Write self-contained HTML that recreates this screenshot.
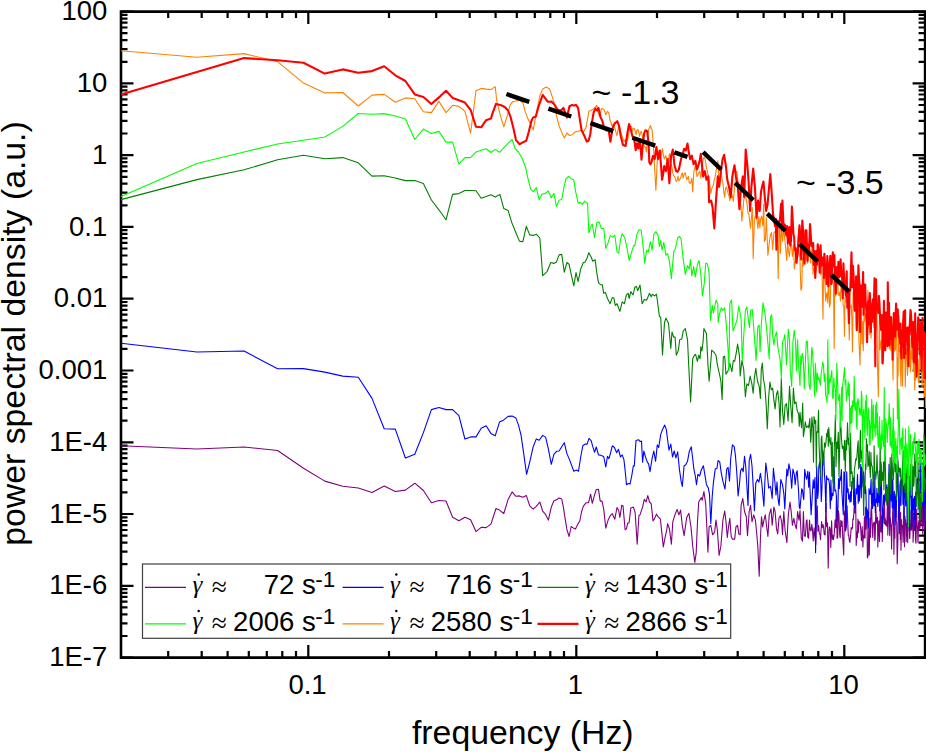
<!DOCTYPE html>
<html><head><meta charset="utf-8"><title>PSD</title>
<style>html,body{margin:0;padding:0;background:#fff}body{width:926px;height:752px;overflow:hidden;font-family:"Liberation Sans",sans-serif}</style>
</head><body>
<svg width="926" height="752" viewBox="0 0 926 752" style="display:block">
<rect width="926" height="752" fill="#fff"/>
<g stroke="#000" stroke-width="2.6" fill="none" stroke-linecap="butt">
<path d="M121.0 11.6 H925.1 V657.6 H121.0 Z"/>
</g>
<path d="M121.0 11.6 h12.5 M925.1 11.6 h-12.5 M121.0 61.8 h6.5 M925.1 61.8 h-6.5 M121.0 49.1 h6.5 M925.1 49.1 h-6.5 M121.0 40.2 h6.5 M925.1 40.2 h-6.5 M121.0 33.2 h6.5 M925.1 33.2 h-6.5 M121.0 27.5 h6.5 M925.1 27.5 h-6.5 M121.0 22.7 h6.5 M925.1 22.7 h-6.5 M121.0 18.6 h6.5 M925.1 18.6 h-6.5 M121.0 14.9 h6.5 M925.1 14.9 h-6.5 M121.0 83.4 h12.5 M925.1 83.4 h-12.5 M121.0 133.5 h6.5 M925.1 133.5 h-6.5 M121.0 120.9 h6.5 M925.1 120.9 h-6.5 M121.0 111.9 h6.5 M925.1 111.9 h-6.5 M121.0 105.0 h6.5 M925.1 105.0 h-6.5 M121.0 99.3 h6.5 M925.1 99.3 h-6.5 M121.0 94.5 h6.5 M925.1 94.5 h-6.5 M121.0 90.3 h6.5 M925.1 90.3 h-6.5 M121.0 86.7 h6.5 M925.1 86.7 h-6.5 M121.0 155.2 h12.5 M925.1 155.2 h-12.5 M121.0 205.3 h6.5 M925.1 205.3 h-6.5 M121.0 192.7 h6.5 M925.1 192.7 h-6.5 M121.0 183.7 h6.5 M925.1 183.7 h-6.5 M121.0 176.8 h6.5 M925.1 176.8 h-6.5 M121.0 171.1 h6.5 M925.1 171.1 h-6.5 M121.0 166.3 h6.5 M925.1 166.3 h-6.5 M121.0 162.1 h6.5 M925.1 162.1 h-6.5 M121.0 158.4 h6.5 M925.1 158.4 h-6.5 M121.0 226.9 h12.5 M925.1 226.9 h-12.5 M121.0 277.1 h6.5 M925.1 277.1 h-6.5 M121.0 264.5 h6.5 M925.1 264.5 h-6.5 M121.0 255.5 h6.5 M925.1 255.5 h-6.5 M121.0 248.5 h6.5 M925.1 248.5 h-6.5 M121.0 242.9 h6.5 M925.1 242.9 h-6.5 M121.0 238.1 h6.5 M925.1 238.1 h-6.5 M121.0 233.9 h6.5 M925.1 233.9 h-6.5 M121.0 230.2 h6.5 M925.1 230.2 h-6.5 M121.0 298.7 h12.5 M925.1 298.7 h-12.5 M121.0 348.9 h6.5 M925.1 348.9 h-6.5 M121.0 336.2 h6.5 M925.1 336.2 h-6.5 M121.0 327.3 h6.5 M925.1 327.3 h-6.5 M121.0 320.3 h6.5 M925.1 320.3 h-6.5 M121.0 314.6 h6.5 M925.1 314.6 h-6.5 M121.0 309.8 h6.5 M925.1 309.8 h-6.5 M121.0 305.7 h6.5 M925.1 305.7 h-6.5 M121.0 302.0 h6.5 M925.1 302.0 h-6.5 M121.0 370.5 h12.5 M925.1 370.5 h-12.5 M121.0 420.7 h6.5 M925.1 420.7 h-6.5 M121.0 408.0 h6.5 M925.1 408.0 h-6.5 M121.0 399.1 h6.5 M925.1 399.1 h-6.5 M121.0 392.1 h6.5 M925.1 392.1 h-6.5 M121.0 386.4 h6.5 M925.1 386.4 h-6.5 M121.0 381.6 h6.5 M925.1 381.6 h-6.5 M121.0 377.4 h6.5 M925.1 377.4 h-6.5 M121.0 373.8 h6.5 M925.1 373.8 h-6.5 M121.0 442.3 h12.5 M925.1 442.3 h-12.5 M121.0 492.4 h6.5 M925.1 492.4 h-6.5 M121.0 479.8 h6.5 M925.1 479.8 h-6.5 M121.0 470.8 h6.5 M925.1 470.8 h-6.5 M121.0 463.9 h6.5 M925.1 463.9 h-6.5 M121.0 458.2 h6.5 M925.1 458.2 h-6.5 M121.0 453.4 h6.5 M925.1 453.4 h-6.5 M121.0 449.2 h6.5 M925.1 449.2 h-6.5 M121.0 445.6 h6.5 M925.1 445.6 h-6.5 M121.0 514.0 h12.5 M925.1 514.0 h-12.5 M121.0 564.2 h6.5 M925.1 564.2 h-6.5 M121.0 551.6 h6.5 M925.1 551.6 h-6.5 M121.0 542.6 h6.5 M925.1 542.6 h-6.5 M121.0 535.7 h6.5 M925.1 535.7 h-6.5 M121.0 530.0 h6.5 M925.1 530.0 h-6.5 M121.0 525.2 h6.5 M925.1 525.2 h-6.5 M121.0 521.0 h6.5 M925.1 521.0 h-6.5 M121.0 517.3 h6.5 M925.1 517.3 h-6.5 M121.0 585.8 h12.5 M925.1 585.8 h-12.5 M121.0 636.0 h6.5 M925.1 636.0 h-6.5 M121.0 623.4 h6.5 M925.1 623.4 h-6.5 M121.0 614.4 h6.5 M925.1 614.4 h-6.5 M121.0 607.4 h6.5 M925.1 607.4 h-6.5 M121.0 601.7 h6.5 M925.1 601.7 h-6.5 M121.0 596.9 h6.5 M925.1 596.9 h-6.5 M121.0 592.8 h6.5 M925.1 592.8 h-6.5 M121.0 589.1 h6.5 M925.1 589.1 h-6.5 M121.0 657.6 h12.5 M925.1 657.6 h-12.5 M308.3 657.6 v-12.5 M308.3 11.6 v12.5 M576.3 657.6 v-12.5 M576.3 11.6 v12.5 M844.3 657.6 v-12.5 M844.3 11.6 v12.5 M168.2 657.6 v-6.5 M168.2 11.6 v6.5 M201.7 657.6 v-6.5 M201.7 11.6 v6.5 M227.6 657.6 v-6.5 M227.6 11.6 v6.5 M248.8 657.6 v-6.5 M248.8 11.6 v6.5 M266.8 657.6 v-6.5 M266.8 11.6 v6.5 M282.3 657.6 v-6.5 M282.3 11.6 v6.5 M296.0 657.6 v-6.5 M296.0 11.6 v6.5 M389.0 657.6 v-6.5 M389.0 11.6 v6.5 M436.2 657.6 v-6.5 M436.2 11.6 v6.5 M469.7 657.6 v-6.5 M469.7 11.6 v6.5 M495.6 657.6 v-6.5 M495.6 11.6 v6.5 M516.8 657.6 v-6.5 M516.8 11.6 v6.5 M534.8 657.6 v-6.5 M534.8 11.6 v6.5 M550.3 657.6 v-6.5 M550.3 11.6 v6.5 M564.0 657.6 v-6.5 M564.0 11.6 v6.5 M657.0 657.6 v-6.5 M657.0 11.6 v6.5 M704.2 657.6 v-6.5 M704.2 11.6 v6.5 M737.7 657.6 v-6.5 M737.7 11.6 v6.5 M763.6 657.6 v-6.5 M763.6 11.6 v6.5 M784.8 657.6 v-6.5 M784.8 11.6 v6.5 M802.8 657.6 v-6.5 M802.8 11.6 v6.5 M818.3 657.6 v-6.5 M818.3 11.6 v6.5 M832.0 657.6 v-6.5 M832.0 11.6 v6.5" stroke="#000" stroke-width="2.2" fill="none"/>
<g font-family="Liberation Sans, sans-serif" font-size="27.5" fill="#000">
<text x="107.3" y="20.2" text-anchor="end">100</text>
<text x="107.3" y="92.0" text-anchor="end">10</text>
<text x="107.3" y="163.8" text-anchor="end">1</text>
<text x="107.3" y="235.5" text-anchor="end">0.1</text>
<text x="107.3" y="307.3" text-anchor="end">0.01</text>
<text x="107.3" y="379.1" text-anchor="end">0.001</text>
<text x="107.3" y="450.9" text-anchor="end">1E-4</text>
<text x="107.3" y="522.6" text-anchor="end">1E-5</text>
<text x="107.3" y="594.4" text-anchor="end">1E-6</text>
<text x="107.3" y="666.2" text-anchor="end">1E-7</text>
<text x="307.5" y="693.6" text-anchor="middle">0.1</text>
<text x="575.5" y="693.6" text-anchor="middle">1</text>
<text x="843.5" y="693.6" text-anchor="middle">10</text>
</g>
<g font-family="Liberation Sans, sans-serif" font-size="33.8" fill="#000">
<text x="522.8" y="743.5" text-anchor="middle">frequency (Hz)</text>
<text transform="translate(25 333.5) rotate(-90)" text-anchor="middle">power spectral density (a.u.)</text>
</g>
<rect x="142.5" y="564" width="588.2" height="74.3" fill="#fff" stroke="#404040" stroke-width="1.2"/>
<path d="M145.0 587.3 h41" stroke="#800080" stroke-width="1.3"/>
<text x="192.4" y="592.8" font-family="Liberation Serif, serif" font-style="italic" font-size="25">γ</text>
<circle cx="198.7" cy="574.4" r="1.25" fill="#000"/>
<text x="211.8" y="595.6" font-family="Liberation Serif, serif" font-size="27.5">≈</text>
<text x="294.3" y="594.1" font-family="Liberation Sans, sans-serif" font-size="27.5" text-anchor="end">72</text>
<text x="301.9" y="594.1" font-family="Liberation Sans, sans-serif" font-size="27.5">s</text>
<text x="315.2" y="587.1" font-family="Liberation Sans, sans-serif" font-size="22.5">-1</text>
<path d="M342.6 587.3 h41" stroke="#0000ff" stroke-width="1.3"/>
<text x="390.0" y="592.8" font-family="Liberation Serif, serif" font-style="italic" font-size="25">γ</text>
<circle cx="396.3" cy="574.4" r="1.25" fill="#000"/>
<text x="409.4" y="595.6" font-family="Liberation Serif, serif" font-size="27.5">≈</text>
<text x="491.9" y="594.1" font-family="Liberation Sans, sans-serif" font-size="27.5" text-anchor="end">716</text>
<text x="499.5" y="594.1" font-family="Liberation Sans, sans-serif" font-size="27.5">s</text>
<text x="512.8" y="587.1" font-family="Liberation Sans, sans-serif" font-size="22.5">-1</text>
<path d="M537.5 587.3 h41" stroke="#008000" stroke-width="1.3"/>
<text x="584.9" y="592.8" font-family="Liberation Serif, serif" font-style="italic" font-size="25">γ</text>
<circle cx="591.2" cy="574.4" r="1.25" fill="#000"/>
<text x="604.3" y="595.6" font-family="Liberation Serif, serif" font-size="27.5">≈</text>
<text x="686.8" y="594.1" font-family="Liberation Sans, sans-serif" font-size="27.5" text-anchor="end">1430</text>
<text x="694.4" y="594.1" font-family="Liberation Sans, sans-serif" font-size="27.5">s</text>
<text x="707.7" y="587.1" font-family="Liberation Sans, sans-serif" font-size="22.5">-1</text>
<path d="M145.0 623.9 h41" stroke="#00ff00" stroke-width="1.3"/>
<text x="192.4" y="629.4" font-family="Liberation Serif, serif" font-style="italic" font-size="25">γ</text>
<circle cx="198.7" cy="611.0" r="1.25" fill="#000"/>
<text x="211.8" y="632.2" font-family="Liberation Serif, serif" font-size="27.5">≈</text>
<text x="294.3" y="630.7" font-family="Liberation Sans, sans-serif" font-size="27.5" text-anchor="end">2006</text>
<text x="301.9" y="630.7" font-family="Liberation Sans, sans-serif" font-size="27.5">s</text>
<text x="315.2" y="623.7" font-family="Liberation Sans, sans-serif" font-size="22.5">-1</text>
<path d="M342.6 623.9 h41" stroke="#ff8000" stroke-width="1.3"/>
<text x="390.0" y="629.4" font-family="Liberation Serif, serif" font-style="italic" font-size="25">γ</text>
<circle cx="396.3" cy="611.0" r="1.25" fill="#000"/>
<text x="409.4" y="632.2" font-family="Liberation Serif, serif" font-size="27.5">≈</text>
<text x="491.9" y="630.7" font-family="Liberation Sans, sans-serif" font-size="27.5" text-anchor="end">2580</text>
<text x="499.5" y="630.7" font-family="Liberation Sans, sans-serif" font-size="27.5">s</text>
<text x="512.8" y="623.7" font-family="Liberation Sans, sans-serif" font-size="22.5">-1</text>
<path d="M537.5 623.9 h41" stroke="#ff0000" stroke-width="2.2"/>
<text x="584.9" y="629.4" font-family="Liberation Serif, serif" font-style="italic" font-size="25">γ</text>
<circle cx="591.2" cy="611.0" r="1.25" fill="#000"/>
<text x="604.3" y="632.2" font-family="Liberation Serif, serif" font-size="27.5">≈</text>
<text x="686.8" y="630.7" font-family="Liberation Sans, sans-serif" font-size="27.5" text-anchor="end">2866</text>
<text x="694.4" y="630.7" font-family="Liberation Sans, sans-serif" font-size="27.5">s</text>
<text x="707.7" y="623.7" font-family="Liberation Sans, sans-serif" font-size="22.5">-1</text>
<path d="M121.0 445.7 L196.9 449.0 L244.1 447.0 L277.6 450.5 L303.5 468.3 L324.8 481.1 L342.7 486.3 L358.3 488.0 L372.0 492.4 L384.2 486.1 L395.3 491.5 L405.4 490.1 L414.8 483.2 L423.4 490.5 L431.4 502.7 L438.9 500.5 L446.0 501.0 L452.6 517.2 L458.9 520.7 L464.9 517.2 L470.6 519.8 L476.0 531.6 L481.2 527.3 L486.1 527.6 L490.9 524.1 L496.0 508.5 L499.5 510.1 L503.8 513.5 L508.1 499.4 L512.1 491.9 L515.9 496.3 L519.4 495.9 L522.8 497.3 L526.3 495.4 L529.7 505.8 L533.2 509.2 L536.3 506.3 L539.8 502.0 L542.7 511.1 L545.3 514.1 L548.4 520.1 L551.3 507.1 L553.9 500.8 L556.5 499.7 L559.1 498.0 L561.7 498.9 L563.4 507.1 L565.2 519.2 L566.9 529.6 L569.1 536.5 L571.2 526.5 L573.3 527.9 L575.5 529.1 L577.6 524.4 L579.8 521.0 L581.6 511.5 L583.3 506.3 L585.9 502.8 L588.5 502.8 L590.6 494.2 L592.3 503.3 L594.5 495.1 L596.3 489.5 L598.5 489.4 L600.2 501.1 L602.0 501.1 L603.7 508.9 L605.8 528.2 L608.4 519.2 L610.4 515.4 L612.3 513.7 L614.8 519.2 L617.0 507.5 L618.7 510.6 L619.9 517.5 L621.7 505.4 L623.0 505.8 L625.1 529.6 L626.5 528.7 L627.7 523.2 L629.1 522.7 L630.8 508.0 L633.4 507.1 L635.1 512.3 L637.2 544.3 L638.9 515.8 L640.0 514.9 L642.6 507.1 L644.3 499.4 L646.0 502.0 L647.8 495.6 L649.5 502.0 L651.2 503.7 L653.0 521.0 L654.7 518.4 L656.4 514.1 L658.1 516.7 L660.4 519.2 L662.5 539.1 L663.3 546.9 L665.1 537.4 L666.8 529.6 L667.6 523.6 L669.4 528.7 L671.4 544.3 L672.8 521.8 L674.6 515.8 L677.1 509.4 L678.9 514.9 L680.6 510.1 L682.3 525.3 L684.1 535.7 L686.7 517.5 L688.9 513.2 L691.0 527.0 L692.7 546.0 L694.8 562.4 L696.2 552.9 L697.5 521.8 L698.7 502.0 L701.3 497.6 L702.2 500.2 L703.9 491.6 L705.7 503.7 L707.0 530.5 L707.9 552.1 L709.1 527.0 L710.8 525.3 L712.6 534.8 L714.6 532.2 L716.0 520.1 L717.4 530.5 L719.1 555.5 L720.9 546.0 L722.9 520.1 L724.7 511.0 L726.0 521.8 L727.3 537.4 L728.5 527.0 L729.8 518.4 L731.2 536.5 L732.4 539.1 L734.7 539.1 L735.9 527.0 L737.6 525.3 L738.8 533.9 L740.2 534.8 L741.1 505.4 L742.8 498.5 L744.5 511.5 L746.3 516.7 L747.5 535.7 L749.2 511.5 L750.6 505.4 L752.0 521.8 L753.7 514.9 L755.4 520.1 L756.6 532.2 L757.8 546.0 L759.2 576.3 L760.4 539.1 L761.5 516.7 L762.7 527.0 L763.9 520.1 L765.3 514.9 L766.5 525.3 L767.9 536.5 L769.2 514.9 L771.0 508.9 L772.2 525.3 L773.9 507.1 L775.1 511.5 L776.5 528.7 L777.7 533.9 L779.1 517.5 L780.3 515.8 L781.7 521.8 L782.5 534.8 L783.8 511.5 L785.1 530.5 L786.9 542.6 L788.3 514.9 L790.0 502.0 L791.2 511.5 L792.4 525.3 L793.8 518.4 L795.2 525.3 L796.4 528.7 L797.6 511.5 L799.0 520.1 L800.0 510.6 L800.7 525.8 L801.3 538.3 L802.4 541.2 L803.4 511.5 L804.3 536.0 L805.4 536.1 L806.4 520.4 L807.0 519.9 L807.8 537.2 L808.6 538.3 L809.5 520.1 L810.2 529.8 L811.1 530.8 L811.8 524.3 L812.4 528.7 L813.2 540.9 L814.1 527.7 L814.8 536.4 L815.8 544.5 L816.7 508.8 L817.3 505.9 L817.9 531.2 L818.6 525.5 L819.3 533.3 L820.0 534.8 L820.5 539.8 L821.2 527.5 L821.6 521.5 L822.2 527.6 L823.0 524.6 L823.5 526.6 L824.3 534.6 L825.1 535.0 L826.0 503.3 L826.6 526.8 L827.5 522.9 L828.2 568.1 L829.0 530.7 L829.5 526.8 L830.2 529.2 L830.8 547.4 L831.6 520.7 L832.3 539.3 L832.9 535.3 L833.5 539.7 L834.3 533.5 L835.1 519.9 L835.9 527.7 L836.4 496.2 L837.1 538.3 L837.7 537.8 L838.4 510.8 L838.9 514.4 L839.7 534.4 L840.2 537.8 L840.8 520.3 L841.6 526.5 L842.1 521.1 L842.9 541.1 L843.7 554.9 L844.4 513.5 L845.0 510.7 L845.4 531.1 L846.3 527.2 L847.1 505.9 L847.8 524.3 L848.3 535.5 L848.7 535.2 L849.4 541.1 L849.9 542.4 L850.6 535.4 L851.2 527.5 L851.7 529.2 L852.4 528.2 L852.9 518.9 L853.3 519.6 L853.9 512.7 L854.6 497.3 L855.0 513.0 L855.7 501.1 L856.2 545.4 L857.0 531.7 L857.4 537.6 L857.9 519.0 L858.3 532.7 L858.9 521.0 L859.6 523.0 L860.1 522.9 L860.8 530.3 L861.4 540.7 L862.2 526.6 L862.9 547.0 L863.3 535.7 L863.9 538.1 L864.4 516.9 L865.0 538.1 L865.4 507.1 L865.8 529.1 L866.4 512.8 L867.0 518.9 L867.4 557.9 L868.0 556.3 L868.8 528.5 L869.3 555.1 L869.9 518.2 L870.4 537.4 L870.9 512.3 L871.5 504.6 L871.9 518.4 L872.4 532.1 L872.8 537.4 L873.2 524.5 L873.8 522.5 L874.3 522.2 L874.8 540.5 L875.2 538.7 L875.8 506.4 L876.4 520.3 L876.8 523.4 L877.5 517.2 L877.8 547.0 L878.4 531.5 L878.9 520.7 L879.5 541.5 L879.9 525.4 L880.5 492.7 L880.9 531.7 L881.5 532.1 L881.9 516.1 L882.3 541.4 L882.8 508.2 L883.2 512.8 L883.6 514.8 L884.2 523.5 L884.5 499.3 L884.9 523.9 L885.2 518.0 L885.7 525.3 L886.3 521.0 L886.8 526.2 L887.4 503.5 L887.8 535.1 L888.4 517.8 L888.8 492.6 L889.1 507.7 L889.7 535.6 L890.1 517.7 L890.7 522.9 L891.1 527.4 L891.6 549.1 L892.0 525.9 L892.5 521.8 L892.9 501.8 L893.4 509.7 L893.9 554.3 L894.4 526.8 L894.9 538.2 L895.4 501.8 L895.9 494.1 L896.3 521.5 L896.7 523.1 L897.2 563.8 L897.8 543.7 L898.3 514.5 L898.9 505.0 L899.4 519.9 L899.7 514.9 L900.3 539.7 L900.6 512.4 L901.0 550.3 L901.6 519.6 L901.9 526.7 L902.5 525.4 L903.1 542.3 L903.7 515.8 L904.1 507.6 L904.5 546.7 L904.9 516.2 L905.3 521.3 L905.8 520.0 L906.2 541.8 L906.7 523.2 L907.1 525.5 L907.7 542.6 L908.1 511.5 L908.5 502.8 L908.9 504.9 L909.5 538.2 L909.8 538.5 L910.3 524.0 L910.6 529.9 L911.1 510.2 L911.7 530.3 L912.2 509.2 L912.7 512.3 L913.1 542.2 L913.7 529.0 L914.0 515.6 L914.4 530.1 L915.0 507.5 L915.5 540.0 L916.0 543.3 L916.7 509.0 L917.1 525.9 L917.5 527.0 L918.0 542.6 L918.5 522.2 L919.1 528.7 L919.6 511.3 L920.0 528.2 L920.3 498.3 L920.7 512.1 L921.2 524.6 L921.8 503.7 L922.2 498.3 L922.7 534.0 L923.0 525.8 L923.5 490.9 L924.1 523.5 L924.7 529.6 L925.2 502.6 L925.8 521.7" fill="none" stroke="#800080" stroke-width="1.1" stroke-linejoin="round"/>
<path d="M121.0 343.3 L196.9 352.0 L244.1 351.0 L277.6 368.8 L303.5 368.6 L324.8 372.1 L342.7 376.1 L358.3 377.3 L372.0 398.4 L384.2 428.8 L395.3 429.1 L405.4 458.0 L414.8 454.2 L423.4 432.6 L431.4 409.6 L438.9 407.5 L446.0 409.6 L452.6 409.6 L458.9 415.6 L464.9 439.0 L470.6 436.9 L476.0 436.9 L481.2 428.3 L486.1 425.7 L490.9 433.4 L495.2 435.8 L499.5 422.1 L503.8 419.9 L508.1 416.4 L512.1 416.1 L515.9 418.1 L518.5 425.1 L521.1 435.4 L523.7 453.6 L526.6 474.3 L529.7 462.2 L533.2 446.7 L536.3 438.9 L539.2 440.3 L542.7 435.4 L545.6 437.1 L548.4 449.2 L551.3 464.3 L553.9 454.4 L556.5 451.3 L559.1 451.0 L561.7 446.7 L564.3 442.7 L566.9 453.6 L569.5 459.6 L573.8 471.2 L576.4 470.0 L578.5 471.2 L580.7 457.0 L582.8 445.8 L585.0 444.1 L587.1 444.1 L589.0 438.4 L591.1 440.6 L592.8 446.7 L594.5 452.2 L596.3 447.0 L598.5 454.9 L600.6 455.3 L603.7 456.5 L605.8 467.0 L607.5 456.2 L608.9 458.7 L610.4 453.6 L612.3 445.8 L614.4 447.5 L616.7 452.7 L618.4 449.2 L620.5 457.0 L622.2 454.9 L623.9 459.6 L625.1 470.0 L626.5 484.7 L628.2 483.5 L630.0 484.1 L631.7 476.0 L633.4 465.7 L634.3 466.0 L636.0 440.6 L638.6 439.7 L640.0 441.5 L641.5 441.1 L642.6 462.2 L643.8 451.0 L645.5 457.0 L647.2 461.9 L648.6 463.9 L650.0 471.7 L652.1 458.7 L653.8 451.0 L655.6 461.3 L657.3 444.9 L658.7 447.5 L660.7 434.6 L662.5 429.4 L664.7 425.1 L666.3 429.4 L667.6 439.7 L669.0 450.1 L670.8 444.1 L672.5 457.0 L674.2 451.0 L675.9 457.9 L677.7 451.8 L679.4 469.1 L681.1 481.2 L682.3 486.4 L684.1 465.7 L685.8 464.8 L687.5 461.3 L689.2 451.8 L691.3 446.7 L692.7 458.7 L693.9 469.1 L695.3 476.0 L696.5 484.7 L697.9 474.3 L699.6 476.0 L701.3 470.0 L703.4 465.7 L704.8 474.3 L706.5 484.7 L708.3 488.1 L709.5 494.2 L710.8 523.5 L712.2 496.8 L713.4 482.9 L715.2 469.1 L716.9 468.3 L718.1 460.5 L719.8 462.2 L721.2 472.6 L722.9 481.2 L725.0 489.0 L726.7 469.1 L728.1 467.4 L729.5 481.2 L730.7 458.7 L732.4 444.9 L734.2 446.7 L735.4 455.3 L736.8 472.6 L738.1 495.9 L739.4 484.7 L740.6 470.8 L741.9 468.3 L743.2 471.7 L744.5 456.2 L745.7 465.7 L747.1 489.8 L748.0 505.4 L749.2 460.5 L750.6 454.4 L752.0 465.7 L753.2 486.4 L754.4 510.6 L755.8 482.9 L757.5 479.5 L758.9 482.1 L760.4 473.4 L761.8 482.9 L763.0 496.8 L763.9 506.3 L764.8 482.9 L765.8 463.1 L767.3 474.3 L768.7 488.1 L770.5 486.4 L772.2 498.5 L773.4 468.3 L774.8 481.2 L776.0 495.0 L777.0 482.1 L778.2 500.2 L779.1 505.4 L780.8 479.5 L782.5 484.7 L783.8 493.3 L784.8 508.9 L786.0 482.9 L786.9 469.1 L787.7 476.0 L788.9 463.9 L790.3 470.8 L791.7 488.1 L792.9 469.1 L794.3 474.3 L795.2 484.7 L796.4 472.6 L797.2 470.8 L798.6 491.6 L799.3 507.1 L800.0 508.9 L800.8 499.5 L801.7 488.9 L802.5 490.1 L803.2 496.9 L803.8 499.6 L804.7 469.4 L805.7 475.7 L806.5 479.2 L807.1 476.5 L807.8 471.3 L808.7 487.1 L809.5 472.1 L810.0 489.2 L811.1 514.7 L811.8 503.5 L812.3 495.3 L813.2 479.7 L813.9 488.2 L815.0 477.6 L815.6 552.6 L816.7 466.2 L817.7 498.5 L818.3 491.7 L818.8 467.1 L819.6 462.1 L820.4 469.9 L821.3 501.4 L822.0 487.4 L822.8 450.5 L823.8 457.0 L824.5 475.7 L825.1 483.1 L825.9 512.1 L826.5 475.8 L827.2 478.6 L828.0 479.8 L828.7 478.8 L829.5 484.9 L830.3 508.6 L830.9 480.0 L831.5 500.1 L832.4 493.2 L833.1 495.6 L833.9 456.9 L834.8 490.9 L835.7 490.0 L836.5 497.2 L837.1 521.3 L838.0 506.6 L838.5 478.5 L839.3 488.7 L839.9 477.0 L840.6 480.3 L841.4 469.6 L841.9 491.9 L842.8 506.8 L843.3 514.6 L843.9 471.9 L844.8 472.9 L845.6 530.4 L846.2 521.8 L846.7 471.8 L847.4 492.3 L848.1 488.9 L848.7 499.2 L849.3 494.9 L850.0 502.3 L850.4 491.8 L851.2 501.5 L851.9 481.2 L852.6 481.2 L853.3 478.4 L853.7 504.6 L854.2 476.9 L854.7 508.2 L855.4 502.6 L856.0 488.7 L856.7 493.9 L857.5 474.6 L858.2 503.2 L858.9 485.2 L859.4 500.9 L860.1 484.8 L860.8 464.2 L861.3 497.8 L861.7 467.4 L862.3 478.3 L863.0 486.8 L863.6 471.7 L864.1 477.9 L864.8 493.6 L865.4 486.3 L865.9 491.5 L866.6 519.3 L867.0 508.8 L867.7 512.0 L868.2 528.2 L868.6 526.9 L869.0 488.5 L869.7 492.6 L870.1 494.5 L870.6 488.8 L871.1 479.1 L871.5 503.9 L872.1 493.5 L872.6 508.5 L873.1 482.4 L873.6 496.1 L874.0 505.9 L874.4 504.6 L874.8 473.6 L875.3 512.4 L875.9 499.3 L876.5 502.5 L876.9 488.4 L877.3 499.0 L877.8 506.4 L878.2 493.3 L878.8 502.3 L879.3 470.6 L879.8 510.9 L880.5 496.4 L880.9 464.7 L881.4 484.6 L882.0 506.5 L882.4 528.8 L883.0 514.6 L883.6 495.4 L883.9 504.3 L884.4 500.1 L884.9 493.7 L885.4 500.1 L885.9 486.9 L886.4 487.6 L886.9 484.5 L887.5 504.3 L887.9 490.6 L888.5 496.0 L889.0 464.4 L889.5 477.3 L889.9 522.8 L890.3 476.2 L890.8 471.2 L891.3 500.9 L891.7 463.4 L892.2 507.8 L892.8 479.8 L893.3 508.5 L893.9 497.8 L894.3 491.2 L894.9 525.3 L895.4 496.3 L896.0 517.3 L896.5 502.3 L896.9 492.4 L897.4 481.0 L897.8 461.0 L898.2 483.6 L898.8 510.0 L899.3 533.5 L899.9 485.6 L900.4 480.9 L900.9 505.5 L901.4 479.6 L901.8 484.9 L902.3 474.0 L902.6 462.4 L902.9 504.3 L903.4 486.1 L904.0 519.1 L904.4 493.1 L904.7 477.1 L905.3 490.7 L905.7 506.1 L906.0 495.7 L906.4 480.4 L906.7 487.8 L907.2 527.3 L907.8 520.0 L908.4 493.4 L908.8 478.9 L909.3 531.0 L909.7 528.2 L910.1 486.1 L910.4 481.8 L910.9 497.0 L911.3 487.0 L911.8 527.1 L912.1 484.4 L912.6 510.4 L913.1 507.3 L913.6 498.6 L914.0 519.7 L914.4 496.3 L914.8 500.5 L915.3 530.7 L915.7 492.1 L916.2 506.4 L916.6 488.4 L917.0 479.0 L917.5 494.0 L917.9 473.9 L918.5 483.0 L918.9 504.4 L919.5 515.9 L920.0 488.5 L920.4 490.4 L920.8 458.9 L921.3 484.6 L921.7 490.0 L922.1 477.6 L922.5 505.7 L923.0 474.2 L923.5 484.5 L923.9 522.8 L924.3 487.3 L924.7 500.7 L925.3 504.7 L925.7 473.0" fill="none" stroke="#0000ff" stroke-width="1.1" stroke-linejoin="round"/>
<path d="M121.0 199.6 L196.9 179.6 L244.1 169.8 L277.6 159.8 L303.5 155.3 L324.8 158.8 L342.7 157.6 L358.3 162.8 L372.0 176.1 L384.2 175.8 L395.3 178.0 L405.4 180.6 L414.8 180.6 L423.4 183.6 L431.4 200.0 L438.9 209.8 L446.0 219.8 L452.6 194.4 L458.9 193.6 L464.9 190.5 L470.6 190.5 L476.0 190.8 L481.2 198.3 L486.1 196.5 L490.9 194.8 L495.2 196.9 L500.0 194.6 L503.8 208.6 L508.1 210.4 L511.6 222.1 L515.9 232.8 L519.4 241.1 L522.8 241.8 L526.3 226.4 L529.7 234.9 L533.2 235.4 L536.3 234.2 L539.8 238.0 L541.3 257.0 L542.7 275.7 L547.0 271.7 L550.8 262.5 L553.9 263.4 L556.5 261.9 L559.1 254.9 L561.7 254.4 L564.3 272.2 L566.9 262.5 L569.1 264.3 L571.2 274.3 L573.8 286.0 L576.0 272.6 L578.1 281.6 L580.7 269.1 L583.3 262.5 L585.0 262.2 L587.1 257.9 L588.8 252.7 L591.1 257.0 L592.8 261.3 L595.1 259.6 L596.8 272.6 L598.5 282.9 L600.6 284.7 L602.3 284.7 L603.7 293.3 L605.4 292.4 L607.5 298.5 L610.1 303.7 L612.3 297.6 L613.9 298.1 L615.3 305.4 L617.0 303.7 L619.9 311.4 L622.2 301.9 L624.4 303.7 L626.5 294.7 L628.2 293.3 L629.1 298.5 L630.8 291.6 L633.1 295.0 L634.8 287.3 L636.5 286.4 L637.7 290.7 L640.0 285.0 L642.1 303.7 L644.3 299.4 L646.6 300.2 L649.5 293.3 L651.2 296.8 L652.4 294.2 L654.7 295.9 L656.4 294.2 L657.3 300.0 L659.4 316.4 L660.7 317.3 L662.5 354.9 L664.5 322.5 L665.9 318.1 L668.5 323.3 L670.8 348.4 L672.0 332.0 L673.7 337.1 L675.1 337.1 L676.3 355.3 L678.4 350.1 L679.7 339.7 L681.8 338.9 L683.2 331.1 L685.3 328.5 L687.5 339.7 L688.9 369.1 L690.6 401.9 L692.7 358.7 L694.4 355.3 L695.6 354.4 L697.4 361.3 L698.7 355.3 L700.1 358.7 L700.8 346.7 L701.9 351.0 L703.1 341.5 L703.9 328.5 L706.5 333.7 L707.9 363.9 L709.1 381.2 L710.5 365.7 L711.7 350.1 L714.3 352.7 L716.0 355.3 L717.4 364.8 L719.5 374.3 L720.9 381.2 L722.1 399.4 L723.3 357.0 L724.7 356.2 L726.0 374.3 L728.1 370.8 L729.8 363.1 L731.9 371.7 L733.3 360.5 L734.7 361.3 L736.4 351.8 L737.6 344.1 L739.4 355.3 L740.2 376.0 L741.9 360.5 L743.7 369.1 L745.4 396.8 L746.8 383.8 L748.5 385.5 L750.2 376.0 L752.0 384.7 L753.2 393.3 L754.4 377.8 L755.8 368.3 L757.5 381.2 L759.2 386.4 L760.4 398.5 L761.3 369.1 L762.3 363.1 L763.5 379.5 L764.8 386.4 L766.1 403.7 L767.3 428.7 L768.7 396.8 L769.9 382.1 L771.3 389.8 L772.7 388.1 L773.9 400.2 L775.1 408.9 L776.5 394.2 L777.7 390.7 L779.1 403.7 L780.0 427.0 L781.3 378.6 L782.5 410.6 L783.8 424.4 L785.1 405.4 L786.5 403.7 L788.1 421.0 L789.5 386.4 L790.7 405.4 L792.1 422.7 L793.4 388.1 L794.6 403.7 L796.0 401.9 L797.2 410.6 L798.6 414.0 L799.3 426.1 L800.0 412.3 L800.8 421.5 L801.6 427.9 L802.7 403.1 L803.4 436.6 L804.5 429.1 L805.3 421.8 L806.4 427.5 L807.4 426.8 L808.1 425.7 L808.7 427.8 L809.8 418.6 L810.7 442.4 L811.2 435.1 L811.9 417.0 L812.9 428.2 L813.5 462.2 L814.0 416.5 L815.0 423.4 L815.7 420.3 L816.3 467.2 L816.8 431.9 L817.8 432.3 L818.5 410.4 L819.1 446.1 L820.0 465.9 L820.7 476.7 L821.3 438.5 L821.8 436.0 L822.6 459.5 L823.5 465.2 L824.5 442.9 L825.3 447.2 L825.9 442.9 L826.7 433.2 L827.2 436.5 L827.8 429.5 L828.3 446.2 L828.8 427.5 L829.5 440.5 L830.4 444.4 L830.9 437.5 L831.8 476.3 L832.3 442.3 L832.8 480.3 L833.8 486.7 L834.3 447.0 L834.9 431.5 L835.4 415.0 L836.0 466.8 L836.8 442.0 L837.4 448.8 L838.3 432.4 L839.0 476.4 L839.7 446.7 L840.3 422.0 L841.0 427.4 L841.5 439.0 L842.3 448.6 L842.8 446.0 L843.4 446.7 L844.1 460.0 L844.6 440.3 L845.3 472.1 L846.1 440.5 L846.5 449.9 L847.0 438.7 L847.5 422.8 L848.3 444.5 L848.8 438.4 L849.4 453.2 L850.1 486.2 L850.6 433.3 L851.3 473.5 L852.1 471.7 L852.9 488.4 L853.6 489.9 L854.4 469.3 L855.1 465.0 L855.8 458.8 L856.2 460.5 L856.9 456.8 L857.7 444.8 L858.2 440.8 L858.7 468.9 L859.4 467.1 L859.8 450.7 L860.4 430.3 L861.0 462.2 L861.4 451.2 L862.1 458.3 L862.5 446.6 L863.1 482.7 L863.6 515.2 L864.3 480.5 L865.0 488.8 L865.5 463.7 L865.9 469.4 L866.4 438.8 L866.9 450.8 L867.4 444.6 L867.9 466.6 L868.6 464.4 L869.2 451.4 L869.7 467.2 L870.4 477.5 L870.9 452.6 L871.2 461.6 L871.6 465.7 L872.2 465.9 L872.7 473.4 L873.2 489.2 L873.8 485.4 L874.1 445.8 L874.7 473.3 L875.3 471.8 L875.8 479.2 L876.4 472.2 L877.0 455.0 L877.6 472.7 L878.2 476.8 L878.6 489.7 L879.1 494.7 L879.6 481.1 L880.2 443.6 L880.6 486.0 L881.1 462.0 L881.7 481.0 L882.0 472.0 L882.5 480.5 L883.1 477.3 L883.5 461.9 L883.9 489.7 L884.4 464.5 L884.9 445.9 L885.5 472.6 L885.9 501.9 L886.3 488.8 L886.8 505.3 L887.3 492.8 L887.7 487.3 L888.3 501.7 L888.9 473.1 L889.3 486.7 L889.8 471.6 L890.2 457.5 L890.6 487.0 L890.9 494.0 L891.4 472.9 L891.8 454.1 L892.2 463.8 L892.5 471.4 L893.1 479.0 L893.5 479.5 L893.9 460.8 L894.2 465.3 L894.8 446.4 L895.1 471.8 L895.6 464.2 L896.0 464.8 L896.4 499.4 L896.7 489.2 L897.1 467.4 L897.6 456.3 L898.1 465.6 L898.6 471.9 L899.1 467.7 L899.6 469.5 L900.0 476.5 L900.3 468.4 L900.7 469.7 L901.2 495.8 L901.8 490.6 L902.3 485.1 L902.7 461.4 L903.2 450.4 L903.7 461.8 L904.3 488.3 L904.6 468.8 L905.0 492.4 L905.4 481.9 L905.9 470.4 L906.2 500.9 L906.6 476.8 L907.1 464.3 L907.6 478.3 L907.9 468.7 L908.5 511.8 L909.0 476.2 L909.6 490.7 L910.1 474.3 L910.7 464.2 L911.1 482.5 L911.6 477.1 L912.0 464.8 L912.4 490.0 L913.0 480.9 L913.3 466.2 L913.7 486.2 L914.1 482.5 L914.4 470.4 L914.8 453.9 L915.1 460.3 L915.5 476.6 L915.8 461.5 L916.3 505.0 L916.7 494.1 L917.2 488.5 L917.7 484.2 L918.1 509.5 L918.6 476.2 L919.1 460.0 L919.5 513.3 L919.8 494.4 L920.2 519.8 L920.8 503.3 L921.4 490.0 L921.8 503.7 L922.3 482.1 L922.6 467.3 L923.0 482.4 L923.5 460.5 L924.0 491.7 L924.3 470.4 L924.7 490.2 L925.2 479.0 L925.7 483.2" fill="none" stroke="#008000" stroke-width="1.1" stroke-linejoin="round"/>
<path d="M121.0 196.6 L196.9 163.5 L244.1 152.0 L277.6 144.0 L303.5 140.2 L324.8 137.0 L342.7 126.4 L358.3 113.5 L372.0 114.3 L384.2 113.6 L395.3 116.0 L405.4 119.0 L414.8 139.5 L423.4 129.1 L431.4 133.5 L438.9 131.4 L446.0 142.1 L452.6 142.1 L458.9 164.2 L464.9 157.6 L470.6 157.6 L476.0 152.1 L481.2 150.2 L486.1 148.7 L490.9 152.5 L495.2 149.4 L499.5 152.3 L505.6 145.9 L512.1 139.5 L515.1 148.5 L518.5 152.0 L522.0 158.0 L525.4 166.7 L528.0 178.7 L530.6 189.1 L533.2 191.7 L536.3 187.7 L539.2 199.8 L541.8 194.3 L545.3 193.4 L548.2 190.8 L551.3 197.8 L553.9 193.4 L556.5 206.4 L559.1 200.3 L561.7 199.5 L564.3 185.7 L566.0 178.7 L568.6 176.5 L571.2 178.7 L573.8 180.1 L575.5 190.8 L578.1 202.9 L580.7 202.6 L582.4 204.3 L584.7 201.2 L586.8 202.9 L587.6 203.5 L588.8 232.8 L590.6 227.3 L592.3 224.2 L594.5 237.7 L596.8 222.5 L599.2 222.1 L601.4 228.5 L603.7 228.2 L605.8 248.4 L608.0 243.2 L610.4 235.4 L612.7 237.1 L614.8 235.1 L617.0 251.8 L618.7 253.2 L620.5 239.7 L622.2 233.7 L624.8 237.7 L627.4 250.1 L629.1 260.5 L631.7 251.8 L633.8 245.3 L634.8 245.8 L636.9 234.6 L638.9 229.7 L641.2 230.2 L642.6 241.5 L644.8 263.1 L646.6 250.1 L648.3 251.8 L650.4 241.5 L652.1 250.1 L653.8 234.6 L655.9 231.6 L658.1 235.4 L659.4 246.7 L660.7 240.6 L662.1 250.1 L663.8 242.3 L665.9 255.3 L667.6 253.6 L669.4 261.3 L671.4 278.6 L673.7 251.8 L675.4 248.4 L677.7 238.0 L679.4 236.3 L681.1 238.9 L682.9 257.0 L685.3 274.3 L687.5 265.7 L689.2 269.1 L690.5 259.6 L691.8 276.0 L693.6 266.5 L695.3 276.9 L697.4 264.8 L699.1 260.5 L700.8 274.3 L702.5 295.9 L704.3 282.9 L705.7 263.1 L707.4 263.9 L709.1 272.6 L710.5 320.4 L712.2 305.2 L713.4 313.0 L716.0 300.0 L717.8 303.5 L718.1 322.5 L719.5 313.8 L721.2 307.8 L722.9 310.4 L724.7 307.8 L726.4 325.9 L728.1 350.1 L729.0 370.8 L729.8 303.5 L731.6 300.0 L733.0 331.1 L735.0 325.9 L736.8 320.7 L738.8 306.0 L741.1 319.0 L742.3 360.5 L743.7 336.3 L745.4 310.4 L746.8 306.9 L748.5 320.7 L749.5 327.6 L750.6 310.4 L752.3 309.5 L754.0 331.1 L756.1 360.5 L757.8 326.8 L759.2 325.1 L760.1 351.8 L761.3 324.2 L763.0 302.9 L764.8 312.1 L767.0 332.8 L769.2 358.7 L770.5 317.3 L771.7 314.7 L772.7 336.3 L773.9 344.9 L775.1 336.3 L776.5 332.0 L777.9 347.5 L779.1 353.6 L780.3 361.3 L781.3 377.8 L782.5 341.5 L783.8 339.7 L784.8 334.6 L786.5 364.8 L788.3 329.4 L789.5 339.7 L790.3 370.8 L791.7 386.4 L792.9 341.5 L794.3 330.2 L795.5 341.5 L796.4 370.8 L797.6 339.7 L798.6 365.7 L800.0 385.5 L800.8 355.9 L801.5 364.1 L802.2 353.3 L803.2 357.5 L804.3 388.9 L805.2 366.2 L806.3 341.1 L807.3 341.4 L808.4 366.5 L809.1 385.0 L810.2 389.6 L810.9 370.5 L811.8 347.2 L812.6 352.7 L813.7 376.1 L814.7 396.4 L815.3 363.2 L816.2 377.3 L816.7 391.9 L817.3 373.1 L818.1 379.6 L818.8 377.8 L819.7 381.1 L820.3 385.4 L821.1 373.9 L822.0 368.0 L822.6 362.0 L823.5 365.1 L824.3 381.5 L825.0 373.7 L825.6 395.2 L826.5 397.9 L827.1 403.0 L827.8 339.8 L828.6 394.1 L829.5 378.9 L830.2 382.3 L830.9 376.4 L831.8 370.6 L832.5 397.5 L833.2 398.6 L833.8 377.9 L834.4 385.6 L835.2 388.6 L835.9 420.2 L836.8 363.1 L837.3 374.1 L838.1 397.8 L838.8 400.7 L839.6 394.4 L840.2 427.8 L840.9 414.3 L841.6 387.5 L842.1 420.6 L842.5 386.2 L843.1 381.7 L843.8 375.0 L844.5 367.6 L845.1 384.5 L845.8 379.8 L846.3 401.3 L847.1 393.5 L847.6 390.0 L848.2 381.9 L848.6 396.0 L849.3 383.7 L849.8 439.5 L850.3 408.3 L850.9 423.6 L851.3 405.5 L851.9 422.4 L852.7 401.0 L853.2 400.7 L853.6 406.4 L854.2 376.3 L854.8 405.1 L855.3 410.2 L856.1 402.2 L856.5 425.2 L857.0 429.2 L857.4 402.1 L858.0 398.5 L858.6 403.5 L859.2 414.6 L859.6 408.4 L860.2 410.0 L860.9 415.2 L861.4 391.4 L862.0 397.8 L862.6 467.8 L863.1 415.8 L863.8 409.4 L864.2 417.8 L865.0 439.5 L865.4 401.1 L865.7 413.9 L866.3 395.1 L866.8 427.6 L867.3 435.5 L867.8 417.1 L868.3 407.8 L868.9 421.1 L869.3 444.4 L869.7 420.2 L870.1 445.3 L870.7 425.0 L871.2 428.4 L871.7 399.2 L872.0 409.5 L872.7 440.0 L873.3 404.7 L873.9 427.3 L874.5 424.9 L875.2 436.2 L875.7 405.0 L876.1 427.4 L876.5 402.2 L877.1 434.6 L877.4 413.1 L878.0 444.1 L878.5 447.3 L879.0 435.0 L879.6 416.7 L880.0 448.9 L880.5 442.8 L880.9 437.3 L881.3 434.0 L881.6 449.3 L882.0 420.4 L882.5 439.9 L883.1 437.2 L883.6 446.7 L884.0 410.7 L884.3 387.6 L884.6 461.1 L884.9 433.1 L885.3 449.5 L885.8 418.5 L886.2 425.1 L886.7 424.1 L887.2 442.5 L887.7 429.4 L888.1 426.5 L888.6 422.1 L889.2 403.5 L889.6 420.5 L890.1 445.5 L890.6 417.6 L891.2 447.4 L891.8 441.8 L892.2 455.3 L892.6 430.3 L892.9 428.5 L893.3 408.2 L893.7 466.5 L894.2 430.7 L894.5 462.5 L894.9 450.0 L895.4 445.7 L895.8 438.2 L896.3 457.2 L896.8 446.3 L897.1 472.6 L897.7 443.2 L898.2 432.4 L898.8 389.6 L899.4 422.6 L899.9 454.5 L900.4 441.5 L901.0 438.9 L901.3 437.7 L901.7 449.5 L902.2 445.5 L902.6 429.0 L902.9 428.4 L903.2 478.2 L903.7 483.3 L904.0 481.5 L904.5 446.4 L904.9 482.9 L905.5 428.7 L906.0 473.0 L906.4 456.3 L906.6 457.4 L907.0 443.8 L907.4 451.2 L907.9 475.4 L908.3 526.7 L908.8 426.6 L909.2 450.8 L909.6 446.4 L910.0 456.0 L910.4 434.3 L910.9 464.6 L911.2 495.3 L911.6 468.0 L912.0 459.1 L912.5 443.5 L913.0 450.9 L913.3 454.3 L913.8 438.4 L914.3 440.9 L914.9 432.3 L915.3 447.9 L915.8 453.7 L916.3 461.7 L916.7 462.5 L917.1 443.0 L917.4 476.7 L917.8 451.7 L918.1 441.9 L918.5 452.7 L918.9 439.4 L919.4 446.2 L919.7 465.4 L920.1 464.2 L920.4 449.0 L920.7 461.8 L921.2 449.6 L921.7 466.6 L922.3 501.5 L922.7 473.8 L923.3 454.5 L923.6 433.7 L924.1 443.2 L924.5 465.9 L924.9 454.2 L925.3 464.8" fill="none" stroke="#00ff00" stroke-width="1.1" stroke-linejoin="round"/>
<path d="M121.0 50.8 L196.9 57.3 L244.1 53.6 L277.6 61.6 L303.5 83.1 L324.8 92.9 L342.7 92.5 L358.3 106.0 L372.0 95.1 L384.2 94.4 L395.3 102.2 L405.4 97.9 L414.8 98.8 L423.4 111.7 L431.4 112.6 L438.9 101.4 L446.0 112.6 L452.6 105.3 L458.9 106.4 L464.9 111.2 L470.6 133.3 L476.0 90.8 L481.2 88.4 L486.1 89.1 L490.9 89.6 L495.2 86.6 L496.9 101.8 L500.4 115.7 L503.8 126.9 L507.3 115.7 L509.9 105.3 L512.5 101.8 L515.9 101.0 L519.4 100.1 L522.8 102.7 L525.4 112.2 L528.0 119.1 L530.6 124.3 L533.2 129.8 L535.3 119.1 L537.5 107.0 L540.1 94.9 L542.7 88.9 L546.2 87.1 L549.6 88.9 L552.2 96.7 L554.8 105.3 L556.5 115.7 L559.1 126.0 L561.7 132.1 L564.3 138.1 L566.9 132.9 L569.5 135.5 L572.1 134.7 L574.7 132.1 L578.1 131.2 L580.7 130.3 L583.3 132.1 L585.9 127.8 L587.6 119.1 L588.8 111.3 L591.1 110.5 L593.7 108.7 L596.8 105.3 L598.0 112.2 L599.7 116.5 L600.6 112.6 L601.4 108.7 L602.3 108.5 L603.2 109.1 L604.0 109.6 L604.9 111.7 L605.8 114.8 L606.6 113.0 L607.5 111.3 L608.9 113.1 L610.1 120.8 L611.0 122.7 L611.8 126.0 L612.7 124.5 L613.5 124.3 L614.4 127.3 L615.3 129.5 L616.1 132.9 L617.0 135.5 L617.9 131.0 L618.7 126.0 L619.6 128.0 L620.5 131.2 L621.3 133.8 L622.2 136.4 L623.0 139.4 L623.9 140.7 L624.8 141.6 L625.6 139.2 L626.5 142.8 L627.4 139.8 L628.2 137.7 L629.1 131.2 L630.0 129.5 L630.8 126.0 L631.7 127.0 L632.5 131.2 L633.4 128.3 L634.3 128.6 L635.1 130.6 L636.0 134.7 L636.9 130.2 L637.7 129.5 L638.6 131.1 L639.5 136.4 L640.3 133.6 L641.2 131.2 L642.1 134.2 L642.9 139.8 L643.8 144.9 L644.6 146.8 L645.5 146.9 L646.4 151.9 L647.2 142.3 L648.1 132.9 L648.6 129.7 L649.5 127.7 L650.4 125.4 L651.2 128.3 L652.1 129.7 L653.5 147.0 L654.7 169.5 L655.9 190.2 L657.3 159.1 L658.1 154.4 L659.0 150.5 L659.9 154.5 L660.7 157.4 L661.6 153.7 L662.5 148.7 L663.3 154.7 L664.2 159.1 L665.1 157.1 L665.9 155.7 L666.8 160.4 L667.6 162.6 L668.5 160.7 L669.4 153.9 L670.2 162.7 L671.1 164.3 L672.0 167.2 L672.8 172.9 L673.7 175.7 L674.6 176.4 L675.4 178.9 L676.3 181.6 L677.1 180.5 L678.0 176.4 L678.9 180.8 L679.7 179.8 L680.6 178.2 L681.5 174.7 L682.3 172.9 L683.2 178.1 L684.2 173.8 L685.3 172.9 L686.7 179.8 L687.5 178.1 L688.4 176.4 L689.2 182.4 L690.1 183.3 L691.0 182.1 L691.8 178.1 L692.7 191.9 L693.9 171.2 L695.3 166.0 L696.2 171.2 L697.0 176.4 L697.9 174.9 L698.7 172.9 L699.8 171.4 L700.8 178.1 L702.2 164.3 L703.1 160.2 L703.9 157.4 L704.8 158.4 L705.7 162.6 L706.5 168.1 L707.4 171.2 L708.3 176.5 L709.1 179.8 L710.0 186.1 L710.8 193.7 L711.7 188.8 L712.6 186.8 L713.4 184.6 L714.3 179.8 L715.2 176.7 L716.0 171.2 L716.9 167.4 L717.8 160.8 L718.6 175.5 L719.5 186.8 L720.3 177.2 L721.2 172.9 L722.1 179.7 L722.9 183.3 L723.8 191.8 L724.7 197.1 L725.5 188.7 L726.4 186.8 L727.3 190.0 L728.1 193.7 L729.0 195.8 L729.8 200.6 L730.7 197.4 L731.6 193.7 L732.4 196.1 L733.3 201.4 L734.2 191.5 L735.0 183.3 L735.9 173.0 L736.8 171.2 L737.6 179.1 L738.5 186.8 L739.4 191.8 L740.2 200.6 L741.1 208.9 L741.9 221.3 L742.8 211.2 L743.7 200.6 L744.5 196.3 L745.4 193.7 L746.3 199.8 L747.1 204.0 L748.0 213.1 L748.9 214.4 L749.7 221.6 L750.6 228.2 L751.4 218.0 L752.3 207.5 L753.2 258.6 L754.4 219.3 L755.3 216.0 L756.5 216.0 L757.9 228.6 L758.8 216.6 L759.9 227.9 L760.6 219.2 L761.7 216.2 L762.8 226.0 L763.7 204.4 L764.4 241.6 L765.4 239.7 L766.3 217.4 L767.9 255.3 L769.4 241.6 L770.5 234.8 L771.5 232.4 L772.7 249.8 L773.9 233.1 L775.2 231.4 L776.5 234.0 L777.1 220.1 L778.2 278.6 L779.0 228.4 L779.7 225.1 L780.4 253.2 L781.5 225.1 L782.6 241.3 L783.7 228.2 L784.9 240.2 L786.0 251.5 L786.8 260.5 L787.6 242.0 L788.5 250.9 L789.4 256.5 L790.6 244.4 L791.5 244.0 L792.4 256.5 L793.6 245.1 L794.3 269.1 L795.1 262.5 L796.0 259.3 L797.1 263.7 L798.2 245.7 L799.1 253.5 L799.9 258.0 L800.9 290.2 L801.8 287.8 L802.4 258.1 L803.3 266.1 L804.1 238.0 L804.9 244.6 L805.7 243.7 L806.8 256.2 L807.3 263.1 L807.9 262.3 L808.7 243.7 L809.4 248.8 L810.1 251.6 L810.7 262.9 L811.3 250.5 L812.1 248.0 L813.0 274.3 L813.7 267.7 L814.3 270.0 L815.1 277.5 L815.8 272.1 L816.8 266.6 L817.5 264.8 L818.1 256.1 L818.6 257.3 L819.3 261.6 L820.1 253.2 L820.7 274.6 L821.6 264.7 L822.1 275.1 L823.0 319.0 L823.8 253.9 L824.7 279.3 L825.7 301.3 L826.4 295.2 L827.0 292.7 L827.8 302.9 L828.5 272.9 L829.5 307.1 L830.3 303.9 L830.9 275.2 L831.7 281.0 L832.2 283.3 L832.9 271.9 L833.5 286.6 L834.2 348.6 L834.8 272.6 L835.6 296.2 L836.4 292.6 L837.1 279.7 L837.7 273.8 L838.2 293.8 L839.0 295.6 L839.9 291.9 L840.4 301.0 L841.2 281.4 L841.9 291.6 L842.4 284.3 L843.2 305.5 L843.8 306.0 L844.5 336.2 L845.0 297.6 L845.7 302.3 L846.2 286.1 L846.6 294.5 L847.5 288.9 L848.0 301.0 L848.6 314.7 L849.3 340.1 L849.8 307.9 L850.6 306.7 L851.3 304.9 L851.8 317.6 L852.5 351.9 L853.1 292.5 L853.8 307.2 L854.4 310.7 L855.1 294.7 L855.8 299.4 L856.3 329.6 L856.8 320.8 L857.5 314.3 L858.3 305.4 L859.0 342.4 L860.0 365.0 L861.3 299.4 L861.9 343.8 L862.7 321.3 L863.2 350.8 L863.6 339.6 L864.0 309.7 L864.7 321.3 L865.2 313.9 L865.8 317.7 L866.4 319.2 L866.8 327.5 L867.2 313.4 L867.9 290.2 L868.2 328.0 L868.8 322.0 L869.3 334.4 L869.7 328.9 L870.4 322.1 L871.0 338.3 L871.5 325.2 L872.0 302.2 L872.4 313.2 L872.8 315.4 L873.4 321.5 L873.9 327.5 L874.5 318.2 L875.1 336.8 L875.4 332.6 L876.1 326.3 L876.5 313.8 L876.9 310.4 L877.5 364.2 L878.3 396.8 L879.4 317.2 L880.0 350.0 L880.7 343.4 L881.3 340.3 L881.8 363.1 L882.4 326.8 L883.0 326.1 L883.6 327.5 L884.1 340.1 L884.5 320.0 L885.1 317.2 L885.5 326.4 L886.1 345.1 L886.4 314.7 L886.7 322.9 L887.0 335.3 L887.4 340.0 L888.0 340.8 L888.5 334.4 L888.9 327.3 L889.3 349.0 L889.9 345.0 L890.3 335.0 L890.7 350.7 L891.1 346.7 L891.5 339.8 L891.9 318.6 L892.3 338.9 L893.0 380.0 L893.8 322.1 L894.2 351.7 L894.6 346.0 L895.1 327.1 L895.6 350.3 L896.0 325.0 L896.3 332.7 L896.8 326.6 L897.4 419.1 L897.7 358.1 L898.1 376.2 L898.6 330.7 L898.9 346.1 L899.5 351.6 L899.9 350.8 L900.2 368.5 L900.7 375.9 L901.0 386.1 L901.4 340.8 L902.0 337.3 L902.5 386.0 L903.1 351.0 L903.4 318.6 L903.7 332.9 L904.2 342.8 L904.5 346.6 L904.9 355.3 L905.3 386.8 L905.8 362.6 L906.2 352.8 L906.6 348.8 L907.2 364.5 L907.5 375.3 L907.8 369.5 L908.2 358.1 L908.5 356.1 L909.1 339.9 L909.5 347.4 L910.0 337.9 L910.5 371.7 L910.9 362.7 L911.4 351.2 L911.8 347.8 L912.3 359.6 L912.9 346.2 L913.3 371.5 L913.7 363.5 L914.2 353.0 L914.7 390.0 L915.1 366.1 L915.6 380.0 L915.9 345.5 L916.4 334.4 L916.9 362.1 L917.4 372.0 L918.0 359.5 L918.3 382.0 L918.8 375.3 L919.1 382.8 L919.7 328.8 L920.2 357.7 L920.7 346.2 L921.2 340.9 L921.8 379.2 L922.2 386.8 L922.6 350.9 L923.2 378.5 L923.6 361.4 L924.0 378.3 L924.5 396.6 L924.9 379.1 L925.3 379.1 L925.7 407.9" fill="none" stroke="#ff8000" stroke-width="1.1" stroke-linejoin="round"/>
<path d="M121.0 94.6 L244.1 58.1 L277.6 60.3 L303.5 62.8 L324.8 73.6 L342.7 69.4 L358.3 72.7 L372.0 71.1 L384.2 66.3 L395.3 75.3 L405.4 81.0 L414.8 94.4 L423.4 97.0 L431.4 104.0 L438.9 97.4 L446.0 90.8 L452.6 97.9 L458.9 100.3 L464.9 102.6 L470.6 109.8 L476.0 126.8 L481.2 127.3 L486.1 120.2 L490.9 118.6 L492.6 113.1 L496.0 103.9 L500.4 104.9 L504.7 107.0 L508.1 110.5 L510.7 117.4 L513.3 127.8 L515.9 139.8 L519.4 144.2 L522.8 142.4 L526.3 140.7 L528.9 131.2 L531.5 120.8 L533.2 117.4 L535.8 116.5 L538.4 107.0 L542.7 94.9 L545.3 98.4 L547.9 101.8 L551.3 101.5 L554.8 104.9 L557.4 109.6 L560.8 110.8 L563.4 107.9 L566.9 117.4 L569.5 106.2 L572.1 104.9 L573.8 105.6 L575.9 104.9 L578.1 107.9 L579.8 119.1 L581.6 130.3 L584.2 135.5 L586.8 141.6 L588.5 140.7 L590.2 134.7 L591.9 122.6 L593.7 112.2 L595.4 108.7 L597.1 110.5 L598.5 107.9 L600.6 117.4 L602.3 120.8 L604.0 127.8 L606.1 130.3 L608.4 128.6 L610.4 141.6 L612.7 127.8 L614.8 123.4 L617.3 121.2 L619.1 126.0 L620.8 136.4 L623.0 145.0 L625.6 145.9 L627.4 132.9 L629.1 124.0 L630.8 129.5 L632.5 136.4 L634.3 139.8 L635.7 150.2 L636.9 143.3 L638.3 148.5 L639.5 139.8 L640.8 150.2 L641.5 159.7 L642.9 143.3 L644.3 132.9 L645.5 130.3 L647.2 131.2 L648.6 143.3 L649.3 162.3 L650.4 164.3 L651.7 161.3 L653.0 155.7 L654.7 159.1 L656.4 147.0 L658.1 159.1 L659.9 150.5 L661.0 165.3 L662.1 179.8 L663.2 173.5 L664.2 166.0 L665.9 171.2 L667.6 159.1 L669.4 183.3 L671.1 155.7 L672.8 149.6 L674.6 166.0 L676.3 171.2 L677.6 171.8 L678.9 169.5 L680.2 162.9 L681.5 157.4 L682.8 154.3 L684.1 148.7 L685.8 150.5 L687.5 143.6 L688.8 152.1 L690.1 159.1 L691.8 155.7 L693.6 164.3 L695.3 160.8 L697.0 169.5 L698.7 164.3 L699.8 160.0 L700.8 153.9 L701.9 164.2 L703.1 176.4 L704.8 171.2 L706.5 179.8 L708.3 176.4 L709.1 202.3 L710.2 201.7 L711.2 200.6 L712.6 207.5 L714.3 228.4 L716.0 200.6 L717.8 176.4 L719.1 186.8 L720.9 171.2 L722.6 159.1 L724.1 154.8 L725.9 166.0 L727.3 179.8 L729.0 186.8 L730.7 197.1 L732.4 176.4 L733.5 169.9 L734.5 165.2 L735.9 176.4 L737.6 183.3 L739.4 209.2 L741.1 186.8 L742.8 176.4 L744.2 197.1 L745.7 149.6 L747.1 162.6 L748.5 179.8 L750.1 211.0 L751.4 186.8 L753.2 168.6 L754.9 186.8 L756.6 217.9 L758.0 200.6 L759.7 211.0 L761.0 191.9 L762.2 186.0 L763.5 181.6 L764.8 197.1 L766.1 211.0 L767.5 205.0 L769.0 188.0 L770.3 174.0 L771.5 190.0 L773.0 214.0 L775.0 226.0 L775.8 218.8 L776.4 249.8 L777.5 225.5 L778.7 222.5 L780.0 219.1 L781.1 203.9 L781.8 230.2 L782.4 200.6 L783.7 229.3 L784.9 224.6 L785.8 233.7 L786.5 235.7 L787.1 226.0 L787.9 243.4 L788.8 237.8 L789.4 227.1 L790.2 245.5 L791.0 240.8 L791.9 206.6 L793.5 234.9 L794.1 236.5 L794.8 250.2 L795.7 248.1 L796.3 262.8 L797.2 256.6 L797.8 252.4 L798.4 239.4 L799.5 225.3 L800.2 234.7 L801.2 259.4 L802.3 220.5 L803.1 230.8 L803.9 258.9 L804.6 263.7 L805.5 230.2 L806.4 230.2 L807.5 260.7 L808.4 244.7 L809.0 251.9 L810.0 224.0 L810.6 232.5 L811.5 246.0 L812.2 246.7 L813.2 243.1 L813.7 264.9 L814.4 251.1 L815.3 278.0 L816.2 251.0 L816.9 264.4 L817.7 244.2 L818.7 251.7 L819.7 272.6 L820.6 245.4 L821.4 265.8 L822.4 261.3 L823.2 257.2 L823.9 278.0 L824.5 253.7 L825.0 265.5 L825.9 268.8 L826.5 283.9 L827.3 256.1 L827.9 269.1 L828.4 286.5 L829.0 271.6 L829.6 264.8 L830.3 255.8 L831.2 284.0 L831.7 280.0 L832.3 259.8 L832.8 252.4 L833.6 266.1 L834.4 255.1 L835.0 278.9 L835.8 293.6 L836.7 267.1 L837.4 277.1 L837.9 277.3 L838.4 261.9 L839.0 277.3 L839.5 270.9 L840.1 275.9 L840.6 259.4 L841.4 276.3 L842.0 275.2 L842.8 298.3 L843.4 263.4 L844.0 275.8 L844.5 286.1 L845.0 285.5 L845.8 295.6 L846.7 271.3 L847.3 307.7 L847.7 288.4 L848.2 299.7 L848.9 323.2 L849.5 292.2 L850.3 289.6 L851.5 252.4 L852.3 287.2 L852.9 265.9 L853.5 274.1 L854.3 301.8 L854.8 310.8 L855.6 296.2 L856.1 276.2 L856.8 330.2 L857.6 301.3 L858.4 265.4 L859.4 286.3 L860.0 331.9 L860.7 285.4 L861.4 300.2 L862.0 306.6 L862.7 288.0 L863.1 272.1 L863.6 314.8 L864.3 294.4 L864.7 284.6 L865.2 284.5 L865.7 302.7 L866.4 311.2 L867.1 342.2 L867.6 309.1 L868.2 301.2 L868.8 324.6 L869.2 300.8 L869.8 293.1 L870.4 307.1 L870.8 332.0 L871.4 308.0 L871.9 304.0 L872.3 321.7 L872.9 299.2 L873.6 317.9 L874.5 278.3 L875.3 366.2 L875.6 321.7 L876.0 279.2 L876.5 308.3 L877.0 309.7 L877.4 306.6 L877.8 305.0 L878.2 313.0 L878.8 295.7 L879.4 301.8 L880.0 315.7 L880.5 324.5 L881.1 330.0 L881.8 315.1 L882.4 327.5 L882.7 363.4 L883.1 352.6 L883.5 337.0 L883.9 300.9 L884.3 330.4 L884.7 349.8 L885.2 350.2 L885.6 331.8 L885.9 312.5 L886.3 332.5 L886.6 319.4 L887.1 327.0 L887.5 346.3 L887.8 282.3 L888.2 321.8 L888.6 306.3 L889.0 302.7 L889.5 345.2 L890.0 324.2 L890.5 338.4 L891.0 317.1 L891.6 339.1 L892.0 326.3 L892.6 359.7 L892.9 339.2 L893.3 338.5 L893.8 313.0 L894.2 334.6 L894.6 322.3 L895.1 336.4 L895.6 316.6 L896.1 303.6 L896.5 323.8 L896.8 329.8 L897.2 313.4 L897.8 309.3 L898.1 327.8 L898.4 316.0 L898.8 334.6 L899.1 337.2 L899.5 333.2 L900.1 343.8 L900.5 323.6 L901.1 353.2 L901.5 358.4 L901.8 330.7 L902.2 331.4 L902.8 346.4 L903.1 323.4 L903.7 311.6 L904.1 358.1 L904.6 319.6 L905.1 310.3 L905.4 354.0 L905.9 331.6 L906.3 335.9 L906.8 330.0 L907.3 327.6 L907.9 343.3 L908.5 366.2 L909.0 327.1 L909.5 334.8 L909.9 322.7 L910.5 310.0 L910.8 311.6 L911.2 317.8 L911.5 323.2 L911.9 336.2 L912.3 347.1 L912.9 344.6 L913.3 322.1 L913.8 362.1 L914.2 335.7 L914.8 336.9 L915.2 313.2 L915.7 364.2 L916.1 336.8 L916.6 376.7 L917.1 339.9 L917.6 334.4 L918.2 317.2 L918.8 320.7 L919.3 342.9 L919.6 354.1 L920.2 336.5 L920.6 352.8 L921.0 322.6 L921.4 371.3 L922.0 347.6 L922.5 317.7 L923.0 329.1 L923.4 344.3 L923.9 343.2 L924.2 332.1 L924.5 378.0 L924.9 375.2 L925.3 334.2 L925.7 358.0" fill="none" stroke="#ff0000" stroke-width="2.1" stroke-linejoin="round"/>
<path d="M506.4 94 L687.5 156.9" stroke="#000" stroke-width="4.4" stroke-dasharray="24.2 20.25" fill="none"/>
<path d="M703.1 152.2 L849 291.6" stroke="#000" stroke-width="4.4" stroke-dasharray="25 19.4" fill="none"/>
<g font-family="Liberation Sans, sans-serif" font-size="34" fill="#000">
<text x="591.6" y="104">~ -1.3</text>
<text x="795.9" y="193.9">~ -3.5</text>
</g>
</svg>
</body></html>
